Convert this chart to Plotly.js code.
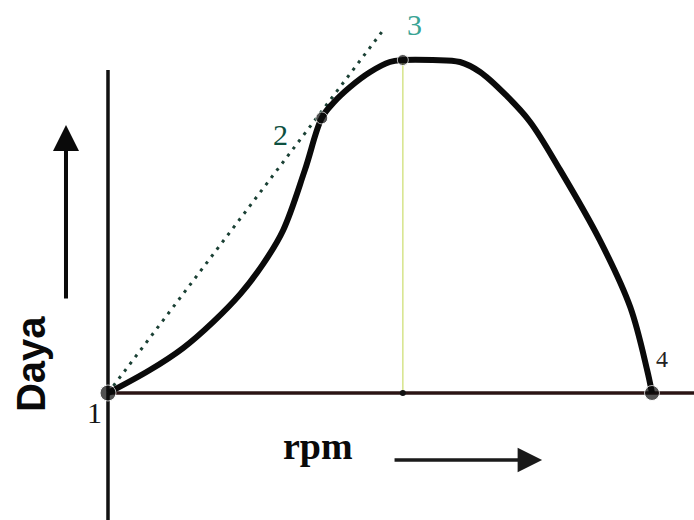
<!DOCTYPE html>
<html>
<head>
<meta charset="utf-8">
<script src="https://cdn.plot.ly/plotly-3.0.1.min.js"></script>
<style>
  html, body { margin: 0; padding: 0; background: #fff; }
  #chart { width: 694px; height: 520px; }
</style>
</head>
<body>
<div id="chart"></div>
<script>
// Power curve (Daya) against engine speed (rpm), relative units
const rpm  = [0, 7.7, 13.8, 19.3, 24.3, 28.5, 32.2, 36.2, 39.3, 41.4, 44.5, 48.2, 51.8, 54.2, 59.7, 64.7, 68.4, 73.3, 77.6, 83.1, 90.4, 96.0, 99.1, 100];
const daya = [0, 6.9, 13.5, 21.3, 29.7, 38.7, 48.9, 67.0, 82.6, 87.1, 91.9, 96.4, 99.4, 100, 100, 99.4, 96.4, 89.2, 81.4, 67.0, 45.9, 25.8, 6.9, 0];

// Numbered operating points on the curve
const pointLabels = ['1', '2', '3', '4'];
const pointRpm    = [0, 39.3, 54.2, 100];
const pointDaya   = [0, 82.6, 100, 0];

// Dotted tangent from the origin
const tangentRpm  = [0, 50.6];
const tangentDaya = [0, 109];

const xRange = [-19.85, 107.72];
const yRange = [-38.14, 118.02];

const traces = [
  // vertical axis
  { x: [0, 0], y: [yRange[0], 97], mode: 'lines',
    line: { color: '#111', width: 3.5 }, hoverinfo: 'skip' },
  // horizontal axis
  { x: [0, xRange[1]], y: [0, 0], mode: 'lines',
    line: { color: '#2a1414', width: 3.5 }, hoverinfo: 'skip' },
  // drop line from the peak
  { x: [pointRpm[2], pointRpm[2]], y: [0, pointDaya[2]], mode: 'lines',
    line: { color: '#d6e48a', width: 1.5 }, hoverinfo: 'skip' },
  // tangent
  { x: tangentRpm, y: tangentDaya, mode: 'lines',
    line: { color: '#1a4034', width: 3, dash: '3px,6px' }, hoverinfo: 'skip' },
  // power curve
  { x: rpm, y: daya, mode: 'lines',
    line: { color: '#0a0a0a', width: 6, shape: 'spline', smoothing: 1 }, hoverinfo: 'skip' },
  // points
  { x: pointRpm, y: pointDaya, mode: 'markers',
    marker: { color: '#0a0a0a', size: [16, 12, 11, 15] }, hoverinfo: 'skip' },
  { x: [pointRpm[2]], y: [0], mode: 'markers',
    marker: { color: '#111', size: 6 }, hoverinfo: 'skip' }
];

const labelShift = [[-13, -19], [-41, -17], [12, 36], [10, 34]];
const labelColor = ['#151515', '#0d5040', '#3aa494', '#222'];
const labelSize  = [30, 30, 30, 24];

const annotations = pointLabels.map((t, i) => ({
  x: pointRpm[i], y: pointDaya[i], text: t, showarrow: false,
  xshift: labelShift[i][0], yshift: labelShift[i][1],
  font: { family: 'Liberation Serif, serif', size: labelSize[i], color: labelColor[i] }
}));

// axis names
annotations.push({
  x: -14.15, y: 8.7, text: '<b>Daya</b>', textangle: -90, showarrow: false,
  font: { family: 'Liberation Sans, Arial, sans-serif', size: 40, color: '#0a0a0a' }
});
annotations.push({
  x: 38.6, y: -16.0, text: '<b>rpm</b>', showarrow: false,
  font: { family: 'Liberation Serif, serif', size: 38, color: '#0a0a0a' }
});

// direction arrows
annotations.push({
  x: -7.72, y: 80.5, ax: -7.72, ay: 27.9, axref: 'x', ayref: 'y',
  showarrow: true, arrowhead: 2, arrowsize: 1.3, arrowwidth: 4, arrowcolor: '#0a0a0a', text: ''
});
annotations.push({
  x: 79.8, y: -20.1, ax: 52.4, ay: -20.1, axref: 'x', ayref: 'y',
  showarrow: true, arrowhead: 2, arrowsize: 1.4, arrowwidth: 3.5, arrowcolor: '#1a1a1a', text: ''
});

const layout = {
  width: 694, height: 520,
  margin: { l: 0, r: 0, t: 0, b: 0 },
  paper_bgcolor: '#ffffff', plot_bgcolor: '#ffffff',
  showlegend: false,
  xaxis: { range: xRange, visible: false, fixedrange: true },
  yaxis: { range: yRange, visible: false, fixedrange: true },
  annotations: annotations
};

Plotly.newPlot('chart', traces, layout, { displayModeBar: false, staticPlot: true });
</script>
</body>
</html>
